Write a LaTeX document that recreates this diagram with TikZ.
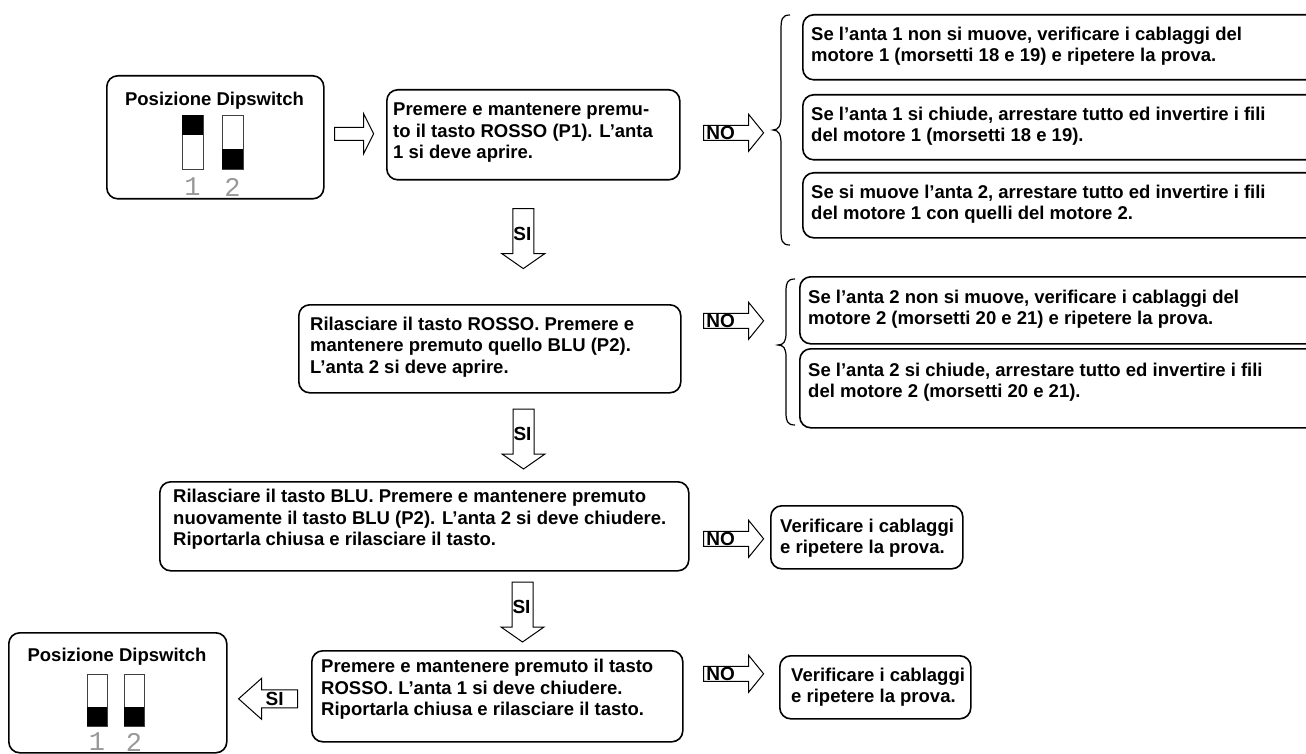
\documentclass[tikz,border=0pt]{standalone}
\usepackage{fontspec}
\setmainfont{Liberation Sans}
\newfontfamily\digitfont{Liberation Mono}
\usetikzlibrary{calc}
\begin{document}
\begin{tikzpicture}[x=1pt,y=-1pt,
  box/.style={draw, line width=1.6pt, rounded corners=11pt, anchor=north west, inner sep=0pt},
  txt/.style={font=\bfseries\fontsize{18.5}{21.5}\selectfont, align=left, anchor=west, inner sep=0pt},
  blockarr/.style={draw, line width=1pt, fill=white, line join=miter},
  lbl/.style={font=\bfseries\fontsize{19}{19}\selectfont, inner sep=0pt},
  swtch/.style={draw=black!75, line width=0.8pt},
  swnum/.style={font=\digitfont\fontsize{27}{27}\selectfont, text=black!40, inner sep=0pt},
  brc/.style={draw, line width=1.2pt},
  noarrow/.pic={
    \draw[blockarr] (0,-7.5) -- (45,-7.5) -- (45,-18.5) -- (60,0) -- (45,18.5) -- (45,7.5) -- (0,7.5) -- cycle;
    \node[lbl] (-t) at (17,0.5) {NO};},
  siarrow/.pic={
    \draw[blockarr] (-10.5,0) -- (10.5,0) -- (10.5,45) -- (21.5,45) -- (0,60) -- (-21.5,45) -- (-10.5,45) -- cycle;
    \node[lbl] (-t) at (-1,25) {SI};},
  sileft/.pic={
    \draw[blockarr] (0,0) -- (23,-20.5) -- (23,-9) -- (59,-9) -- (59,9) -- (23,9) -- (23,20.5) -- cycle;
    \node[lbl] (-t) at (36,0.5) {SI};},
]
\clip (0,0) rectangle (1306,754);
\fill[white] (0,0) rectangle (1306,754);

% ---- top dipswitch setting ----
\node[box, minimum width=217pt, minimum height=123pt] (dipA) at (106,75) {};
\node[txt, anchor=center] (dipAt) at (214.5,101) {Posizione Dipswitch};
\draw[swtch] (182,115) rectangle (203,169);
\fill (182,115) rectangle (203,135);
\draw[swtch] (222,115) rectangle (243,169);
\fill (222,149) rectangle (243,169);
\node[swnum] (dipA1) at (192.5,187) {1};
\node[swnum] (dipA2) at (232.5,187) {2};

% ---- step 1 ----
\node[box, minimum width=293pt, minimum height=90pt] (stepB) at (386,89) {};
\node[txt] (stepBt) at ($(stepB.west)+(7,-2)$) {Premere e mantenere premu-\\to il tasto ROSSO (P1). L’anta\\1 si deve aprire.};

\coordinate (aAB) at ($(dipA.east)+(10,-3.5)$);
\draw[blockarr] (aAB) ++(0,-6.5) -- ++(29,0) -- ++(0,-13.5) -- ++(10,20) -- ++(-10,20) -- ++(0,-13.5) -- ++(-29,0) -- cycle;

% ---- checks after step 1 ----
\pic (no1) at ($(stepB.east)+(23,-2)$) {noarrow};
\draw[brc] (790,15) .. controls (782,15) and (781,19) .. (781,30) -- (781,116)
  .. controls (781,125) and (779,130) .. (773,130)
  .. controls (779,130) and (781,135) .. (781,144) -- (781,230)
  .. controls (781,241) and (782,245) .. (790,245);
\node[box, minimum width=528pt, minimum height=65pt] (r1) at (802,14) {};
\node[txt] (r1t) at ($(r1.west)+(9,-1)$) {Se l’anta 1 non si muove, verificare i cablaggi del\\motore 1 (morsetti 18 e 19) e ripetere la prova.};
\node[box, minimum width=528pt, minimum height=65pt] (r2) at (802,94) {};
\node[txt] (r2t) at ($(r2.west)+(9,-1)$) {Se l’anta 1 si chiude, arrestare tutto ed invertire i fili\\del motore 1 (morsetti 18 e 19).};
\node[box, minimum width=528pt, minimum height=65pt] (r3) at (802,172) {};
\node[txt] (r3t) at ($(r3.west)+(9,-1)$) {Se si muove l’anta 2, arrestare tutto ed invertire i fili\\del motore 1 con quelli del motore 2.};

\pic (si1) at ($(stepB.south)+(-10,28)$) {siarrow};

% ---- step 2 ----
\node[box, minimum width=382pt, minimum height=88pt] (stepC) at (298,304) {};
\node[txt] (stepCt) at ($(stepC.west)+(12,-2)$) {Rilasciare il tasto ROSSO. Premere e\\mantenere premuto quello BLU (P2).\\L’anta 2 si deve aprire.};

\pic (no2) at ($(stepC.east)+(22,-28)$) {noarrow};
\draw[brc] (795,279) .. controls (787,279) and (786,283) .. (786,292) -- (786,333)
  .. controls (786,341) and (784,345) .. (778,345)
  .. controls (784,345) and (786,349) .. (786,357) -- (786,412)
  .. controls (786,421) and (787,425) .. (795,425);
\node[box, minimum width=531pt, minimum height=67pt] (r4) at (799,276) {};
\node[txt] (r4t) at ($(r4.west)+(9,-1)$) {Se l’anta 2 non si muove, verificare i cablaggi del\\motore 2 (morsetti 20 e 21) e ripetere la prova.};
\node[box, minimum width=531pt, minimum height=79pt] (r5) at (799,348) {};
\node[txt] (r5t) at ($(r5.west)+(9,-6)$) {Se l’anta 2 si chiude, arrestare tutto ed invertire i fili\\del motore 2 (morsetti 20 e 21).};

\pic (si2) at (523.5,409) {siarrow};

% ---- step 3 ----
\node[box, minimum width=529pt, minimum height=89pt] (stepD) at (159,481) {};
\node[txt] (stepDt) at ($(stepD.west)+(14,-7)$) {Rilasciare il tasto BLU. Premere e mantenere premuto\\nuovamente il tasto BLU (P2). L’anta 2 si deve chiudere.\\Riportarla chiusa e rilasciare il tasto.};

\pic (no3) at ($(stepD.east)+(14,12.5)$) {noarrow};
\node[box, minimum width=192pt, minimum height=63pt] (chkE) at (770,505) {};
\node[txt] (chkEt) at ($(chkE.west)+(10,1)$) {Verificare i cablaggi\\e ripetere la prova.};

\pic (si3) at (522.5,582) {siarrow};

% ---- step 4 ----
\node[box, minimum width=371pt, minimum height=91pt] (stepF) at (311,650) {};
\node[txt] (stepFt) at ($(stepF.west)+(10,-7)$) {Premere e mantenere premuto il tasto\\ROSSO. L’anta 1 si deve chiudere.\\Riportarla chiusa e rilasciare il tasto.};

\pic (no4) at ($(stepF.east)+(20,-22.5)$) {noarrow};
\node[box, minimum width=191pt, minimum height=63pt] (chkG) at (779,655) {};
\node[txt] (chkGt) at ($(chkG.west)+(12,0)$) {Verificare i cablaggi\\e ripetere la prova.};

% ---- final dipswitch setting ----
\node[box, minimum width=218pt, minimum height=120pt] (dipH) at (8,632) {};
\node[txt, anchor=center] (dipHt) at (117,657) {Posizione Dipswitch};
\draw[swtch] (87,674) rectangle (107,726);
\fill (87,707) rectangle (107,726);
\draw[swtch] (124,674) rectangle (144,726);
\fill (124,707) rectangle (144,726);
\node[swnum] (dipH1) at (97,742) {1};
\node[swnum] (dipH2) at (134,742) {2};

\pic (si4) at ($(dipH.east)+(11,6)$) {sileft};
\end{tikzpicture}
\end{document}
